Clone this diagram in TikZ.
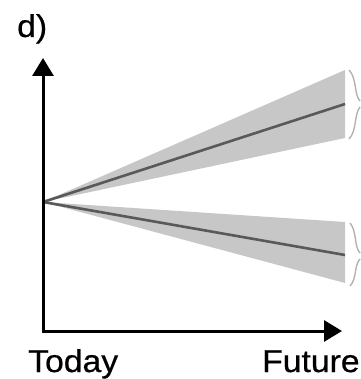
\documentclass[tikz,border=0pt]{standalone}
\usepackage{fontspec}
\setmainfont{Liberation Sans}
\newfontfamily\lblfont[FakeBold=0.6]{Liberation Sans}
\usetikzlibrary{arrows.meta}
\newcommand{\wide}[1]{\scalebox{1.07}[1]{#1}}
\begin{document}
\begin{tikzpicture}[x=1pt,y=-1pt,
  axis/.style={line width=3pt,-{Triangle[length=18pt,width=21pt]}},
  band/.style={fill=black!22,draw=none},
  trend/.style={line width=2.6pt,draw=black!65},
  brk/.style={line width=1.4pt,draw=black!30},
  lbl/.style={inner sep=0pt,font=\lblfont\fontsize{31.5}{31.5}\selectfont}]
\useasboundingbox (0,0) rectangle (360,379);
\coordinate (O) at (43,202);
\coordinate (base) at (43,331);
\coordinate (ytip) at (43,58);
\coordinate (xtip) at (342,331);
\coordinate (u1) at (345,70);
\coordinate (u2) at (345,138);
\coordinate (um) at (345,104);
\coordinate (l1) at (345,222);
\coordinate (l2) at (345,283);
\coordinate (lm) at (345,255);
\fill[band] (O) -- (u1) -- (u2) -- cycle;
\fill[band] (O) -- (l1) -- (l2) -- cycle;
\draw[trend] (O) -- (um);
\draw[trend] (O) -- (lm);
\draw[axis] (base) -- (ytip);
\draw[axis] ([xshift=-1.5pt]base) -- (xtip);
\draw[brk] (349,70) .. controls (357,78) and (354,95) .. (360,101);
\draw[brk] (360,107) .. controls (354,114) and (357,131) .. (349,139);
\draw[brk] (350,223) .. controls (357,231) and (354,247) .. (360,253);
\draw[brk] (360,259) .. controls (354,265) and (357,279) .. (350,286);
\node[lbl,anchor=base west] (d) at (17,37) {\wide{d)}};
\node[lbl,anchor=base west] (today) at (28,372) {\wide{Today}};
\node[lbl,anchor=base west] (future) at (262,372) {\wide{Future}};
\end{tikzpicture}
\end{document}
